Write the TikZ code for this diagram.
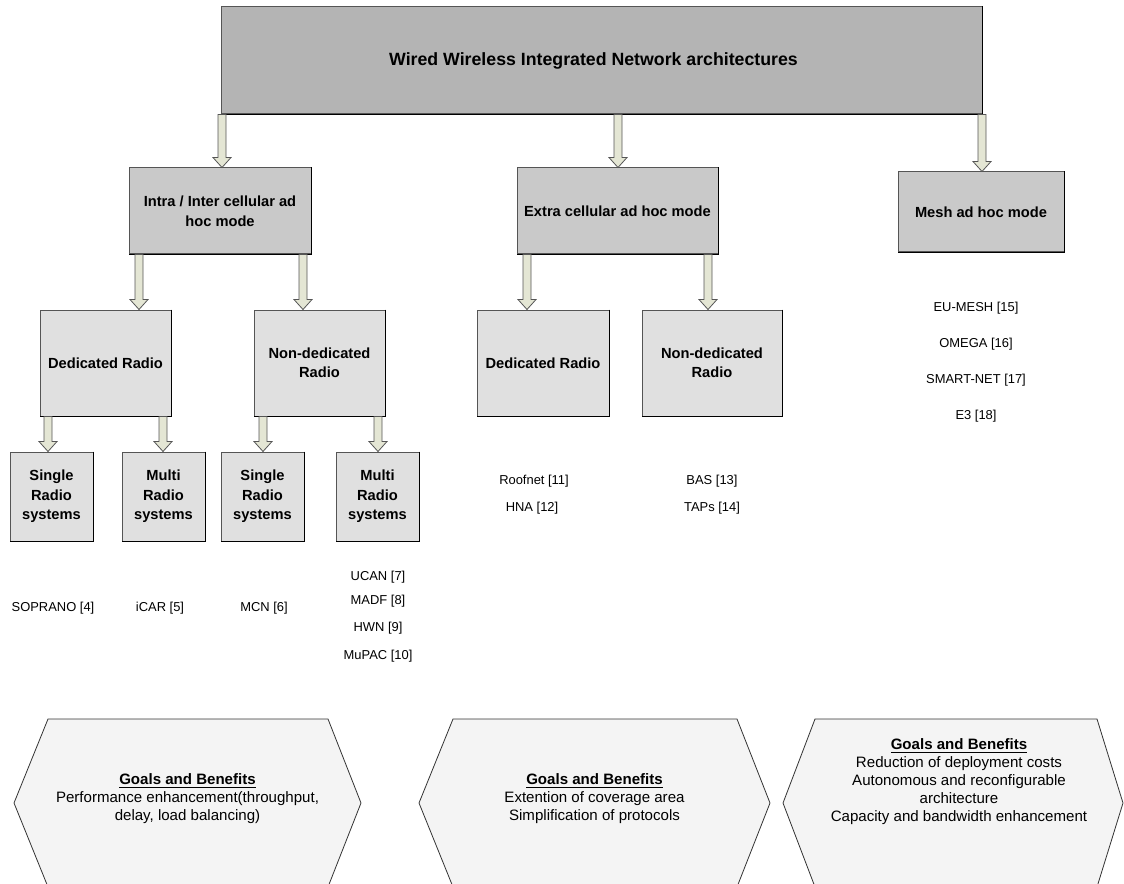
\documentclass[tikz,border=0pt]{standalone}
\usepackage{fontspec}
\setmainfont{Liberation Sans}
\usetikzlibrary{calc}
\definecolor{topfill}{HTML}{B4B4B4}
\definecolor{midfill}{HTML}{C9C9C9}
\definecolor{lowfill}{HTML}{E0E0E0}
\definecolor{hexfill}{HTML}{F4F4F4}
\definecolor{arrfill}{HTML}{E4E6D4}
\definecolor{edgegray}{HTML}{555555}
\tikzset{
  box/.style={draw=edgegray, line width=0.75pt, inner sep=0pt, align=center,
    font=\bfseries\fontsize{11}{14.6}\selectfont},
  boxedge/.style={draw=black, line width=1.2pt},
  barrow/.style={draw=edgegray, line width=0.6pt, fill=arrfill, line join=miter},
  reflabel/.style={inner sep=0pt, font=\fontsize{9.7}{11}\selectfont},
  hexshape/.style={draw=black!80, line width=0.6pt, fill=hexfill},
  hextext/.style={inner sep=0pt, align=center, font=\fontsize{11.3}{13.5}\selectfont},
}
\newcommand\blockarr[3]{%
  \draw[barrow] let \p1=(#1,0 |- #2.south), \p2=(#1,0 |- #3.north) in
    (\x1-3pt,\y1) -- (\x1+3pt,\y1) -- (\x1+3pt,\y2+7.5pt) -- (\x1+6.75pt,\y2+7.5pt)
    -- (\x2,\y2) -- (\x1-6.75pt,\y2+7.5pt) -- (\x1-3pt,\y2+7.5pt) -- cycle;}
\newcommand\shadeedge[1]{\draw[boxedge] (#1.north east) -- (#1.south east) -- (#1.south west);}
\begin{document}
\begin{tikzpicture}[x=0.75pt,y=-0.75pt]
\useasboundingbox (0,0) rectangle (1124,884);
\clip (0,0) rectangle (1124,884);
% level 1
\node[box, fill=topfill, minimum width=761*0.75pt, minimum height=107*0.75pt,
  font=\bfseries\fontsize{13.3}{16}\selectfont] (top) at (601.5,60.5) {\hspace*{-12pt}Wired Wireless Integrated Network architectures};
% level 2
\node[box, fill=midfill, minimum width=182*0.75pt, minimum height=86*0.75pt,
  font=\bfseries\fontsize{11}{15}\selectfont] (intra) at (220,211) {Intra / Inter cellular ad\\hoc mode};
\node[box, fill=midfill, minimum width=201*0.75pt, minimum height=86*0.75pt] (extra) at (617.5,211) {Extra cellular ad hoc mode};
\node[box, fill=midfill, minimum width=166*0.75pt, minimum height=80*0.75pt] (mesh) at (981,212) {Mesh ad hoc mode};
% level 3
\node[box, fill=lowfill, minimum width=131*0.75pt, minimum height=106*0.75pt] (dedA) at (105.5,363) {Dedicated Radio};
\node[box, fill=lowfill, minimum width=131*0.75pt, minimum height=106*0.75pt] (nonA) at (319.5,363) {Non-dedicated\\Radio};
\node[box, fill=lowfill, minimum width=132*0.75pt, minimum height=106*0.75pt] (dedB) at (543,363) {Dedicated Radio};
\node[box, fill=lowfill, minimum width=140*0.75pt, minimum height=106*0.75pt] (nonB) at (712,363) {Non-dedicated\\Radio};
% level 4
\node[box, fill=lowfill, minimum width=83*0.75pt, minimum height=89*0.75pt] (sA) at (51.5,496.5) {Single\\Radio\\systems};
\node[box, fill=lowfill, minimum width=83*0.75pt, minimum height=89*0.75pt] (mA) at (163.5,496.5) {Multi\\Radio\\systems};
\node[box, fill=lowfill, minimum width=83*0.75pt, minimum height=89*0.75pt] (sB) at (262.5,496.5) {Single\\Radio\\systems};
\node[box, fill=lowfill, minimum width=83*0.75pt, minimum height=89*0.75pt] (mB) at (377.5,496.5) {Multi\\Radio\\systems};
% darker right/bottom edges
\foreach \n in {top,intra,extra,mesh,dedA,nonA,dedB,nonB,sA,mA,sB,mB}{\shadeedge{\n}}
% block arrows
\blockarr{222}{top}{intra}
\blockarr{618}{top}{extra}
\blockarr{982}{top}{mesh}
\blockarr{139}{intra}{dedA}
\blockarr{303}{intra}{nonA}
\blockarr{527}{extra}{dedB}
\blockarr{708}{extra}{nonB}
\blockarr{48}{dedA}{sA}
\blockarr{163}{dedA}{mA}
\blockarr{263}{nonA}{sB}
\blockarr{378}{nonA}{mB}
% references
\node[reflabel] (r4) at (53,608) {SOPRANO [4]};
\node[reflabel] (r5) at (160,608) {iCAR [5]};
\node[reflabel] (r6) at (264,608) {MCN [6]};
\node[reflabel] (r7) at (378,577) {UCAN [7]};
\node[reflabel] (r8) at (378,601) {MADF [8]};
\node[reflabel] (r9) at (378,628) {HWN [9]};
\node[reflabel] (r10) at (378,656) {MuPAC [10]};
\node[reflabel] (r11) at (534,481) {Roofnet [11]};
\node[reflabel] (r12) at (532,508) {HNA [12]};
\node[reflabel] (r13) at (712,481) {BAS [13]};
\node[reflabel] (r14) at (712,508) {TAPs [14]};
\node[reflabel] (r15) at (976,308) {EU-MESH [15]};
\node[reflabel] (r16) at (976,344) {OMEGA [16]};
\node[reflabel] (r17) at (976,380) {SMART-NET [17]};
\node[reflabel] (r18) at (976,416) {E3 [18]};
% goals and benefits hexagons
\draw[hexshape] (14,803) -- (48,719) -- (328,719) -- (361,803) -- (328,887) -- (48,887) -- cycle;
\draw[hexshape] (419,803) -- (453,719) -- (737,719) -- (770,803) -- (737,887) -- (453,887) -- cycle;
\draw[hexshape] (783,803) -- (815,719) -- (1097,719) -- (1123,803) -- (1097,887) -- (815,887) -- cycle;
\node[hextext] (g1) at (187.5,799) {\textbf{\underline{Goals and Benefits}}\\Performance enhancement(throughput,\\delay, load balancing)};
\node[hextext] (g2) at (594.5,799) {\textbf{\underline{Goals and Benefits}}\\Extention of coverage area\\Simplification of protocols};
\node[hextext] (g3) at (959,782) {\textbf{\underline{Goals and Benefits}}\\Reduction of deployment costs\\Autonomous and reconfigurable\\architecture\\Capacity and bandwidth enhancement};
\end{tikzpicture}
\end{document}
